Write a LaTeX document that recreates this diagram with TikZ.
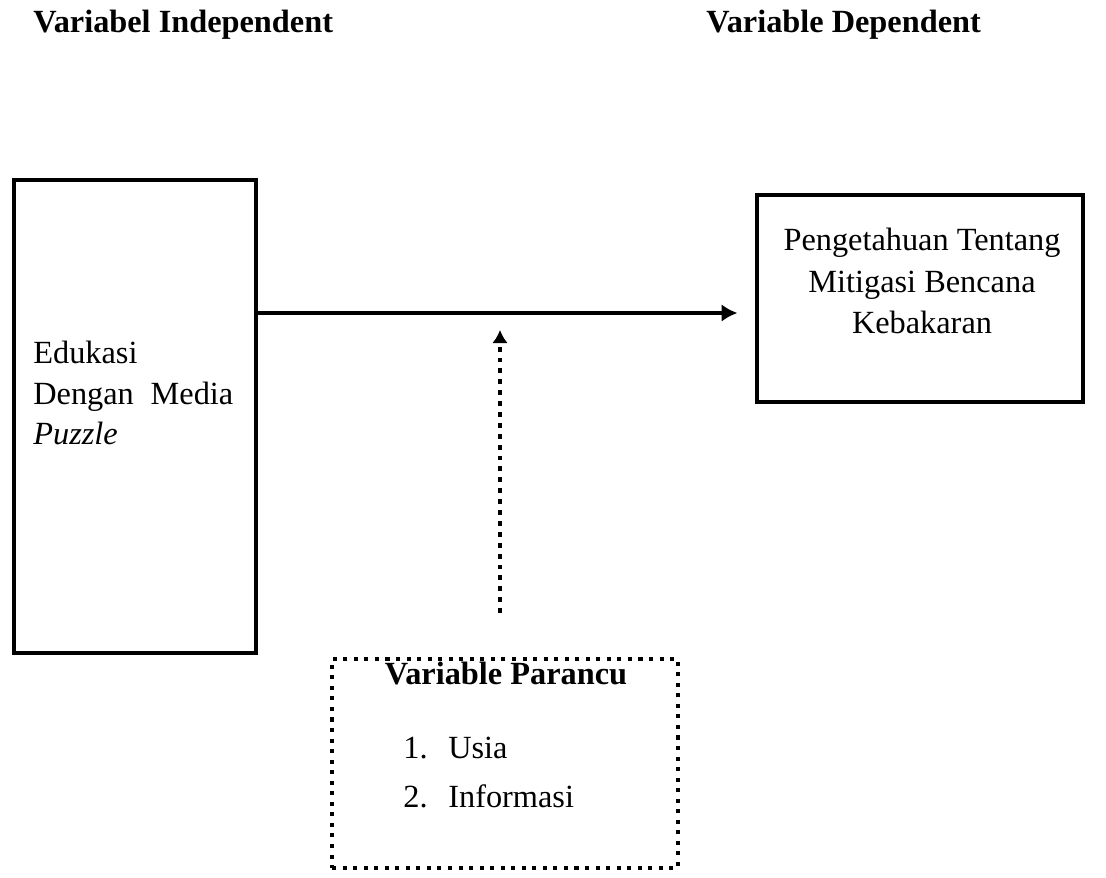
\documentclass[tikz,border=0pt]{standalone}
\usepackage{fontspec}
\setmainfont{Liberation Serif}
\usetikzlibrary{arrows.meta}

\begin{document}
\begin{tikzpicture}[x=0.02cm,y=-0.02cm]

                    \tikzset{txt/.style = {font=\fontsize{18.4}{23.3}\selectfont,inner sep=0pt}}
                    \tikzset{head/.style = {txt,anchor=base west,font=\fontsize{18.4}{23.3}\selectfont\bfseries}}
                    \tikzset{box/.style = {draw,line width=2.3pt,minimum width=#1}}
                    \tikzset{dotbox/.style = {draw,line width=2.3pt,dash pattern=on 2.3pt off 3.7pt}}
                    \tikzset{edge/.style = {line width=2pt,-{Latex[length=9pt,width=10pt]}}}
                    \tikzset{dotedge/.style = {line width=2.8pt,dash pattern=on 2.8pt off 3.4pt,-{Latex[length=7.5pt,width=9pt]}}}
                    \useasboundingbox (0,0) rectangle (1106,878);

                    % headings
                    \node[head] (hindep) at (33,33) {Variabel Independent};
                    \node[head] (hdep) at (706,33) {Variable Dependent};

                    % boxes
                    \node[box=4.84cm,minimum height=9.46cm] (indep) at (135,416.5) {};
                    \node[box=6.52cm,minimum height=4.14cm] (dep) at (920,298.5) {};
                    \node[dotbox,minimum width=6.92cm,minimum height=4.18cm] (conf) at (505,763.5) {};

                    % texts
                    \node[txt,anchor=west,align=left] (tindep) at (33,393)
                        {Edukasi\\\makebox[4.0cm][s]{Dengan Media}\\\textit{Puzzle}};
                    \node[txt,align=center,font=\fontsize{18.4}{23.8}\selectfont] (tdep) at (922,281)
                        {Pengetahuan Tentang\\Mitigasi Bencana\\Kebakaran};
                    \node[head,anchor=base] (tconf) at (506,684) {Variable Parancu};
                    \node[txt,anchor=base west] (item1) at (403,758) {\makebox[0.9cm][l]{1.}Usia};
                    \node[txt,anchor=base west] (item2) at (403,807) {\makebox[0.9cm][l]{2.}Informasi};

                    % connectors
                    \coordinate (mid) at (500,313);
                    \coordinate (hit) at (500,330);
                    \coordinate (mod) at (500,613);
                    \draw[edge] (indep.east |- mid) to ([xshift=-10pt]dep.west |- mid);
                    \draw[dotedge] (mod) to (hit);

                \end{tikzpicture}
\end{document}
